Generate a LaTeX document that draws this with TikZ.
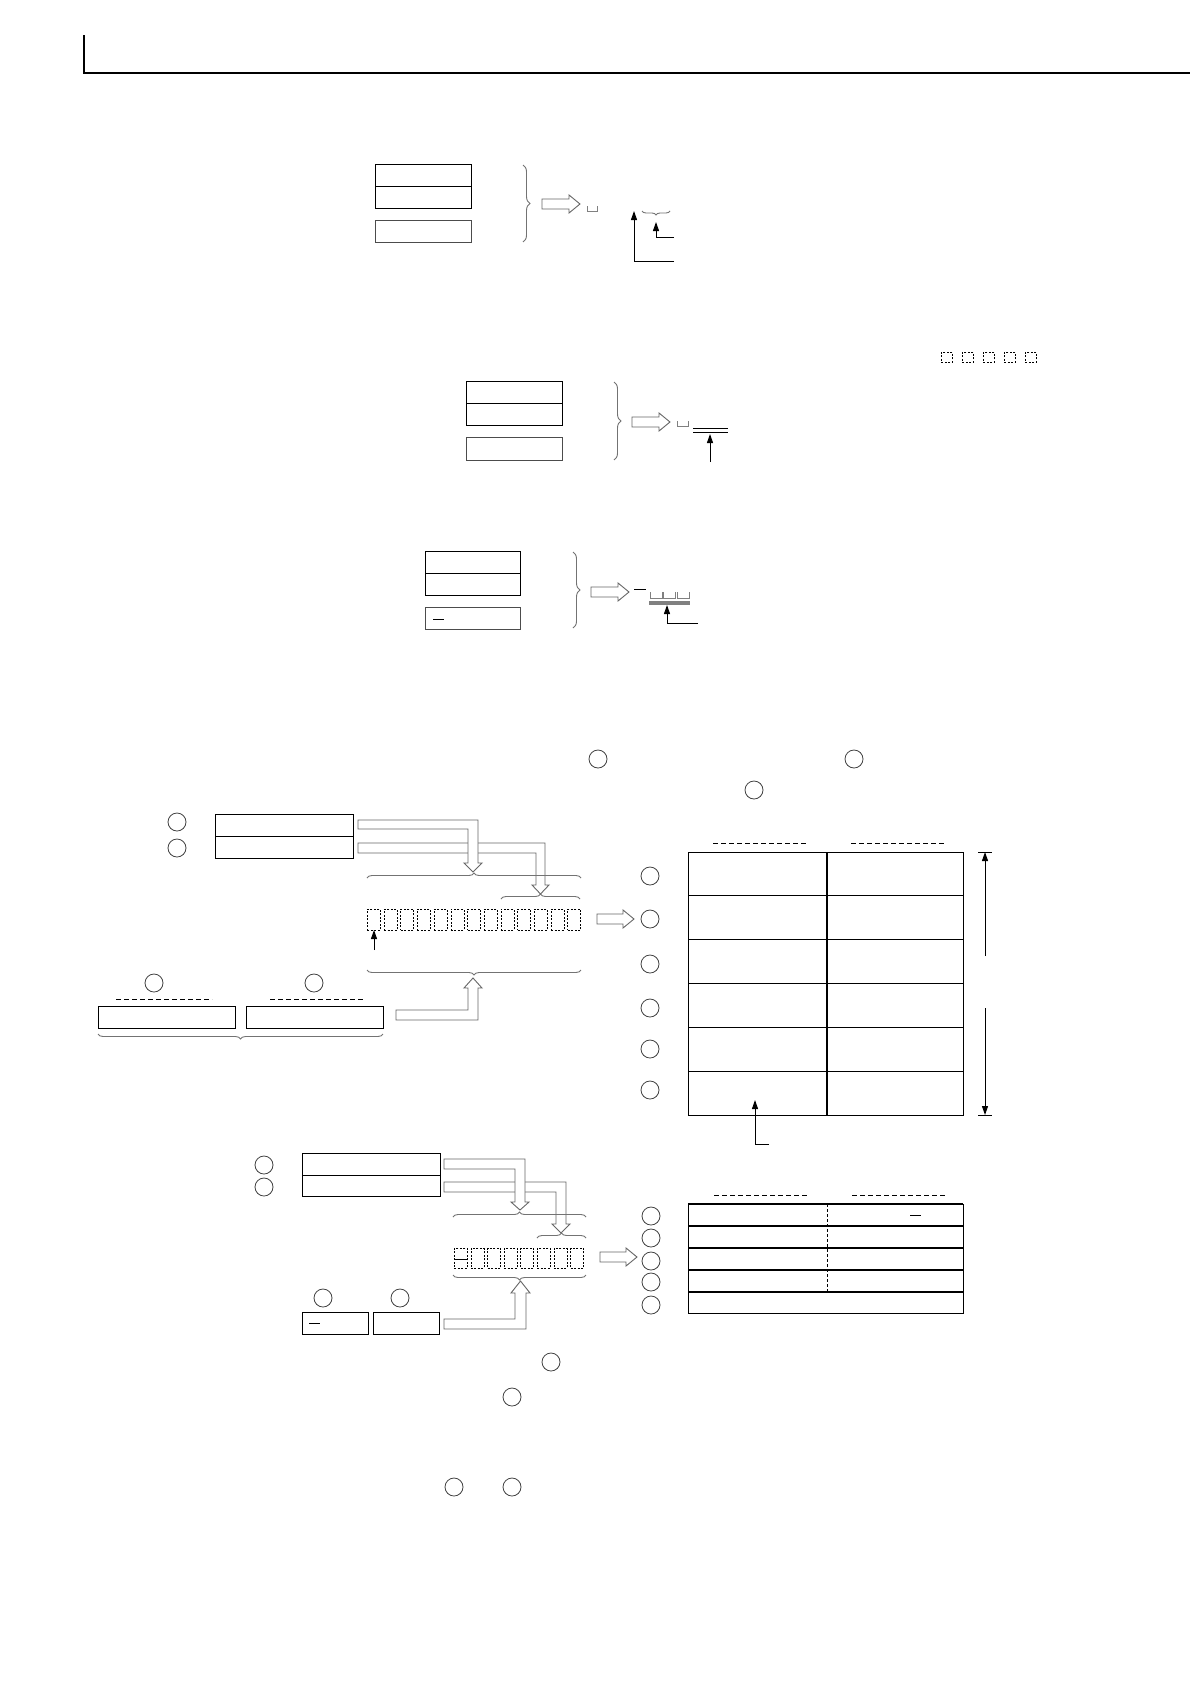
\documentclass[tikz,border=0pt]{standalone}
\usetikzlibrary{decorations.pathreplacing,arrows.meta}
\tikzset{
 box/.style={draw, line width=1.3pt, inner sep=0, anchor=north west},
 circ/.style={draw=black!75, circle, line width=0.8pt, minimum size=18pt, inner sep=0},
 dsq/.style={draw, dash pattern=on 2pt off 1.5pt, line width=0.7pt, inner sep=0, anchor=north west},
 brc/.style={decorate, decoration={brace, amplitude=5pt}, draw=black!55, line width=0.9pt},
 vbrc/.style={decorate, decoration={brace, amplitude=7pt}, draw=black!55, line width=0.9pt},
 harr/.style={draw=black!60, fill=white, line width=0.9pt, line join=miter},
 ptr/.style={line width=1pt, -{Triangle[length=9pt,width=6pt]}},
 dhd/.style={dash pattern=on 5pt off 3pt, line width=0.9pt},
 thin/.style={line width=1pt}
}
\newcommand\hollowR[3]{\draw[harr] (#1,#2-5) -- (#3-11,#2-5) -- (#3-11,#2-9) -- (#3,#2) -- (#3-11,#2+9) -- (#3-11,#2+5) -- (#1,#2+5) -- cycle;}
\begin{document}
\begin{tikzpicture}[x=1pt,y=-1pt]
\useasboundingbox[fill=white] (0,0) rectangle (1190,1684);

% header
\coordinate (h0) at (84,35); \coordinate (h1) at (84,73); \coordinate (h2) at (1190,73);
\draw[line width=1.2pt] (h0) -- (h1) -- (h2);

% ---------- section 1 ----------
\node[box, minimum width=96pt, minimum height=44pt] (s1a) at (375,164) {};
\draw[line width=1.3pt] (s1a.west) -- (s1a.east);
\node[box, draw=black!70, minimum width=96pt, minimum height=22pt] (s1b) at (375,220) {};
\draw[vbrc] (523,165) -- (523,242);
\hollowR{542}{204}{580}
\draw[black!50, line width=0.8pt] (587,206) -- (587,211) -- (597,211) -- (597,206);
\draw[brc, decoration={brace, amplitude=4pt}] (670,211) -- (642,211);
\coordinate (s1p1) at (634,211); \coordinate (s1p1e) at (674,261);
\draw[ptr] (s1p1e) -- (634,261) -- (s1p1);
\coordinate (s1p2) at (656,222); \coordinate (s1p2e) at (674,237);
\draw[ptr] (s1p2e) -- (656,237) -- (s1p2);

% small dashed squares top right
\foreach \i in {0,...,4} {
  \node[dsq, minimum width=11pt, minimum height=10pt] (tq\i) at (941+21*\i,352) {};
}

% ---------- section 2 ----------
\node[box, minimum width=96pt, minimum height=44pt] (s2a) at (466,381) {};
\draw[line width=1.3pt] (s2a.west) -- (s2a.east);
\node[box, draw=black!70, minimum width=96pt, minimum height=23pt] (s2b) at (466,437) {};
\draw[vbrc] (614,382) -- (614,460);
\hollowR{632}{422}{670}
\draw[black!50, line width=0.8pt] (677,421) -- (677,426) -- (688,426) -- (688,421);
\draw[thin] (693,428) -- (728,428);
\draw[thin] (693,432) -- (728,432);
\coordinate (s2t) at (710,434); \coordinate (s2s) at (710,462);
\draw[ptr] (s2s) -- (s2t);

% ---------- section 3 ----------
\node[box, minimum width=95pt, minimum height=44pt] (s3a) at (425,551) {};
\draw[line width=1.3pt] (s3a.west) -- (s3a.east);
\node[box, draw=black!70, minimum width=95pt, minimum height=22pt] (s3b) at (425,607) {};
\draw[thin] (433,619) -- (444,619);
\draw[vbrc] (573,552) -- (573,628);
\hollowR{591}{592}{629}
\draw[thin] (634,589) -- (646,589);
\foreach \i in {0,1,2} {
  \draw[black!50, line width=0.8pt] (650+13.5*\i,592) -- (650+13.5*\i,598) -- (662+13.5*\i,598) -- (662+13.5*\i,592);
}
\draw[black!50, line width=3.5pt] (649,603) -- (690,603);
\coordinate (s3t) at (667,605); \coordinate (s3e) at (698,623);
\draw[ptr] (s3e) -- (667,623) -- (s3t);

% ---------- section 4 ----------
\node[circ] (c4a) at (598,759) {};
\node[circ] (c4b) at (854,759) {};
\node[circ] (c4c) at (754,790) {};

\node[circ] (l1) at (177,822) {};
\node[circ] (l2) at (177,848) {};
\node[box, minimum width=138pt, minimum height=44pt] (r4) at (215,814) {};
\draw[line width=1.3pt] (r4.west) -- (r4.east);

% bent hollow arrows
\draw[harr] (358,843) -- (545,843) -- (545,885) -- (549,885) -- (540.5,894) -- (532,885) -- (536,885) -- (536,853) -- (358,853) -- cycle;
\draw[harr] (358,820) -- (478,820) -- (478,863) -- (482,863) -- (473,872) -- (464,863) -- (468,863) -- (468,829) -- (358,829) -- cycle;

\draw[brc] (367,878) -- (581,878);
\draw[brc] (501,899) -- (580,899);
\foreach \i in {0,...,12} {
  \node[dsq, minimum width=13pt, minimum height=21pt] (q\i) at (367+16.7*\i,909) {};
}
\coordinate (qa) at (374,930); \coordinate (qb) at (374,950);
\draw[ptr] (qb) -- (qa);
\draw[brc] (581,970) -- (367,970);
\draw[harr] (396,1010) -- (468,1010) -- (468,988) -- (464,988) -- (473,978) -- (482,988) -- (478,988) -- (478,1020) -- (396,1020) -- cycle;

\node[circ] (c4d) at (154,983) {};
\node[circ] (c4e) at (314,983) {};
\coordinate (d1a) at (116,999); \coordinate (d1b) at (212,999);
\coordinate (d2a) at (270,999); \coordinate (d2b) at (365,999);
\draw[dhd] (d1a) -- (d1b);
\draw[dhd] (d2a) -- (d2b);
\node[box, minimum width=137pt, minimum height=22pt] (lb1) at (98,1006) {};
\node[box, minimum width=137pt, minimum height=22pt] (lb2) at (246,1006) {};
\draw[brc] (383,1034) -- (98,1034);

\hollowR{597}{919}{634}

% table 1
\coordinate (t1h1a) at (713,843); \coordinate (t1h1b) at (806,843);
\coordinate (t1h2a) at (851,843); \coordinate (t1h2b) at (944,843);
\draw[dhd] (t1h1a) -- (t1h1b);
\draw[dhd] (t1h2a) -- (t1h2b);
\node[box, minimum width=275pt, minimum height=263pt] (t1) at (688,852) {};
\draw[line width=1.3pt] (827,852) -- (827,1115);
\foreach \k in {1,...,5} {
  \draw[line width=1.3pt] (688,852+43.83*\k) -- (963,852+43.83*\k);
}
\foreach \k/\yy in {1/876,2/919,3/964,4/1008,5/1049,6/1090} {
  \node[circ] (rc\k) at (650,\yy) {};
}
\coordinate (t1p) at (755,1100); \coordinate (t1q) at (769,1144);
\draw[ptr] (t1q) -- (755,1144) -- (t1p);
% right dimension arrow
\coordinate (v1) at (985,852); \coordinate (v2) at (985,956);
\coordinate (v3) at (985,1008); \coordinate (v4) at (985,1115);
\draw[ptr] (v2) -- (v1);
\draw[ptr] (v3) -- (v4);
\draw[thin] (978,852) -- (992,852);
\draw[thin] (978,1115) -- (992,1115);

% ---------- section 5 ----------
\node[circ] (l3) at (264,1165) {};
\node[circ] (l4) at (264,1187) {};
\node[box, minimum width=138pt, minimum height=43pt] (r5) at (302,1153) {};
\draw[line width=1.3pt] (r5.west) -- (r5.east);
\draw[harr] (444,1182) -- (566,1182) -- (566,1224) -- (570,1224) -- (561,1233) -- (552,1224) -- (556,1224) -- (556,1192) -- (444,1192) -- cycle;
\draw[harr] (444,1159) -- (525,1159) -- (525,1202) -- (529,1202) -- (520,1210) -- (511,1202) -- (515,1202) -- (515,1169) -- (444,1169) -- cycle;
\draw[brc] (453,1217) -- (586,1217);
\draw[brc] (537,1238) -- (586,1238);
\foreach \i in {0,...,7} {
  \node[dsq, minimum width=13pt, minimum height=20pt] (p\i) at (454+16.6*\i,1248) {};
}
\draw[thin] (455,1259) -- (467,1259);
\draw[brc] (586,1275) -- (453,1275);
\draw[harr] (444,1319) -- (515,1319) -- (515,1293) -- (511,1293) -- (520.5,1281) -- (530,1293) -- (526,1293) -- (526,1329) -- (444,1329) -- cycle;
\node[circ] (c5a) at (323,1298) {};
\node[circ] (c5b) at (400,1298) {};
\node[box, minimum width=66pt, minimum height=22pt] (lb3) at (302,1312) {};
\node[box, minimum width=66pt, minimum height=22pt] (lb4) at (373,1312) {};
\draw[thin] (309,1323) -- (320,1323);
\hollowR{600}{1257}{637}

% table 2
\coordinate (t2h1a) at (714,1195); \coordinate (t2h1b) at (807,1195);
\coordinate (t2h2a) at (852,1195); \coordinate (t2h2b) at (945,1195);
\draw[dhd] (t2h1a) -- (t2h1b);
\draw[dhd] (t2h2a) -- (t2h2b);
\node[box, minimum width=275pt, minimum height=109pt] (t2) at (688,1204) {};
\draw[line width=2pt] (688,1204) -- (963,1204);
\foreach \yy in {1226,1248,1270,1292} {
  \draw[line width=1.3pt] (688,\yy) -- (963,\yy);
}
\draw[dash pattern=on 3pt off 2pt, line width=0.9pt] (827,1204) -- (827,1292);
\draw[thin] (910,1215) -- (921,1215);
\foreach \k/\yy in {1/1216,2/1238,3/1261,4/1282,5/1305} {
  \node[circ] (sc\k) at (651,\yy) {};
}

% text circles
\node[circ] (x1) at (551,1362) {};
\node[circ] (x2) at (512,1397) {};
\node[circ] (x3) at (454,1487) {};
\node[circ] (x4) at (512,1487) {};
\end{tikzpicture}
\end{document}
